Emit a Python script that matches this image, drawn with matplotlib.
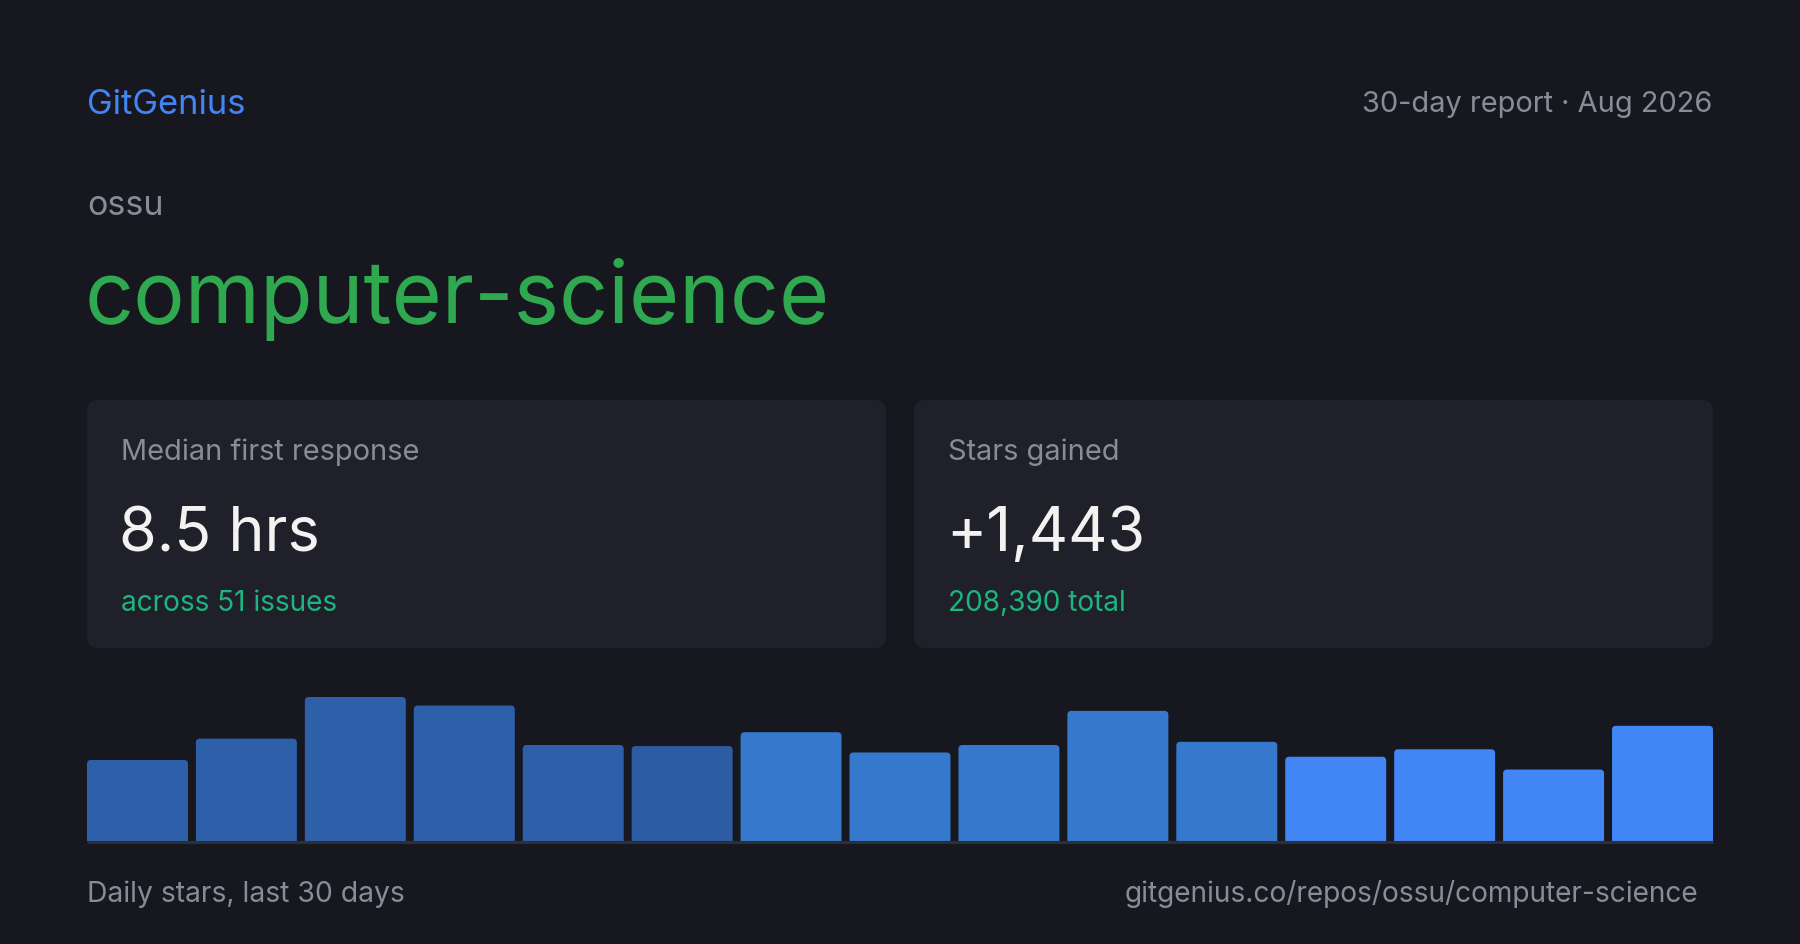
import matplotlib
matplotlib.use('Agg')
import matplotlib.pyplot as plt
from matplotlib.patches import FancyBboxPatch

plt.rcParams['font.family'] = ['Inter', 'DejaVu Sans']

# data
owner = 'ossu'
repo = 'computer-science'
report_label = '30-day report · Aug 2026'
card_titles = ['Median first response', 'Stars gained']
card_values = ['8.5 hrs', '+1,443']
card_notes = ['across 51 issues', '208,390 total']
daily_stars = [76, 96, 135, 127, 90, 89, 102, 83, 90, 122, 93, 79, 86, 67, 108]
bar_colors = ['#2e5fa9', '#2e5fa9', '#2e5fa9', '#2e5fa9', '#2e5fa9', '#2d5ba4',
              '#3578cc', '#3578cc', '#3578cc', '#3578cc', '#3578cc',
              '#4285f4', '#4285f4', '#4285f4', '#4285f4']

BG = '#16171f'
CARD = '#1f202a'
GREY = '#8a8b96'
W, H = 1800, 945

fig = plt.figure(figsize=(W / 100, H / 100), dpi=100)
fig.patch.set_facecolor(BG)

# pixel canvas for text and cards
ax = fig.add_axes([0, 0, 1, 1])
ax.set_xlim(0, W)
ax.set_ylim(H, 0)
ax.axis('off')

def px(size):
    return size * 0.72

ax.text(87, 114, 'GitGenius', color='#4285f4', fontsize=px(34.5), va='baseline')
ax.text(1712, 112, report_label, color=GREY, fontsize=px(29), va='baseline', ha='right')
ax.text(87, 215, owner, color=GREY, fontsize=px(34), va='baseline')
ax.text(85, 323, repo, color='#2fa84f', fontsize=px(86), va='baseline')

card_x = [87, 914]
for i in range(2):
    x0 = card_x[i]
    ax.add_patch(FancyBboxPatch((x0, 401), 799, 248, boxstyle='round,pad=0,rounding_size=12',
                                facecolor=CARD, edgecolor='none'))
    ax.text(x0 + 34, 460, card_titles[i], color=GREY, fontsize=px(29), va='baseline')
    ax.text(x0 + 32, 551, card_values[i], color='#f2f2f0', fontsize=px(61), va='baseline')
    ax.text(x0 + 34, 611, card_notes[i], color='#1db57e', fontsize=px(28), va='baseline')

ax.text(87, 902, 'Daily stars, last 30 days', color=GREY, fontsize=px(28.3), va='baseline')
ax.text(1698, 902, 'gitgenius.co/repos/ossu/' + repo, color=GREY, fontsize=px(28.1),
        va='baseline', ha='right')

# bar chart
bax = fig.add_axes([87 / W, (H - 842) / H, (1713 - 87) / W, (842 - 698) / H])
bax.set_facecolor('none')
n = len(daily_stars)
frac = 0.927
bars = bax.bar(range(n), daily_stars, width=frac, color=bar_colors, linewidth=0)
bax.set_xlim(-frac / 2, n - 1 + frac / 2)
bax.set_ylim(0, max(daily_stars))
bax.axis('off')

# round the top corners (about 4 px); bottom corners fall below the axes and get clipped
x_per_px = (n - 1 + frac) / (1713 - 87)
y_per_px = max(daily_stars) / (842 - 698)
r = 4 * x_per_px
aspect = y_per_px / x_per_px
drop = 10 * y_per_px
for b in bars:
    b.set_visible(False)
    x, w, h = b.get_x(), b.get_width(), b.get_height()
    bax.add_patch(FancyBboxPatch((x, -drop), w, h + drop,
                                 boxstyle='round,pad=0,rounding_size=%f' % r,
                                 mutation_aspect=aspect, facecolor=b.get_facecolor(),
                                 edgecolor='none'))

bax.plot([0, 1], [-1.2 * y_per_px, -1.2 * y_per_px], transform=bax.get_yaxis_transform(),
         color='#2c2e3a', linewidth=2.2, clip_on=False, solid_capstyle='butt')

fig.savefig('out.png', dpi=100, facecolor=BG)
